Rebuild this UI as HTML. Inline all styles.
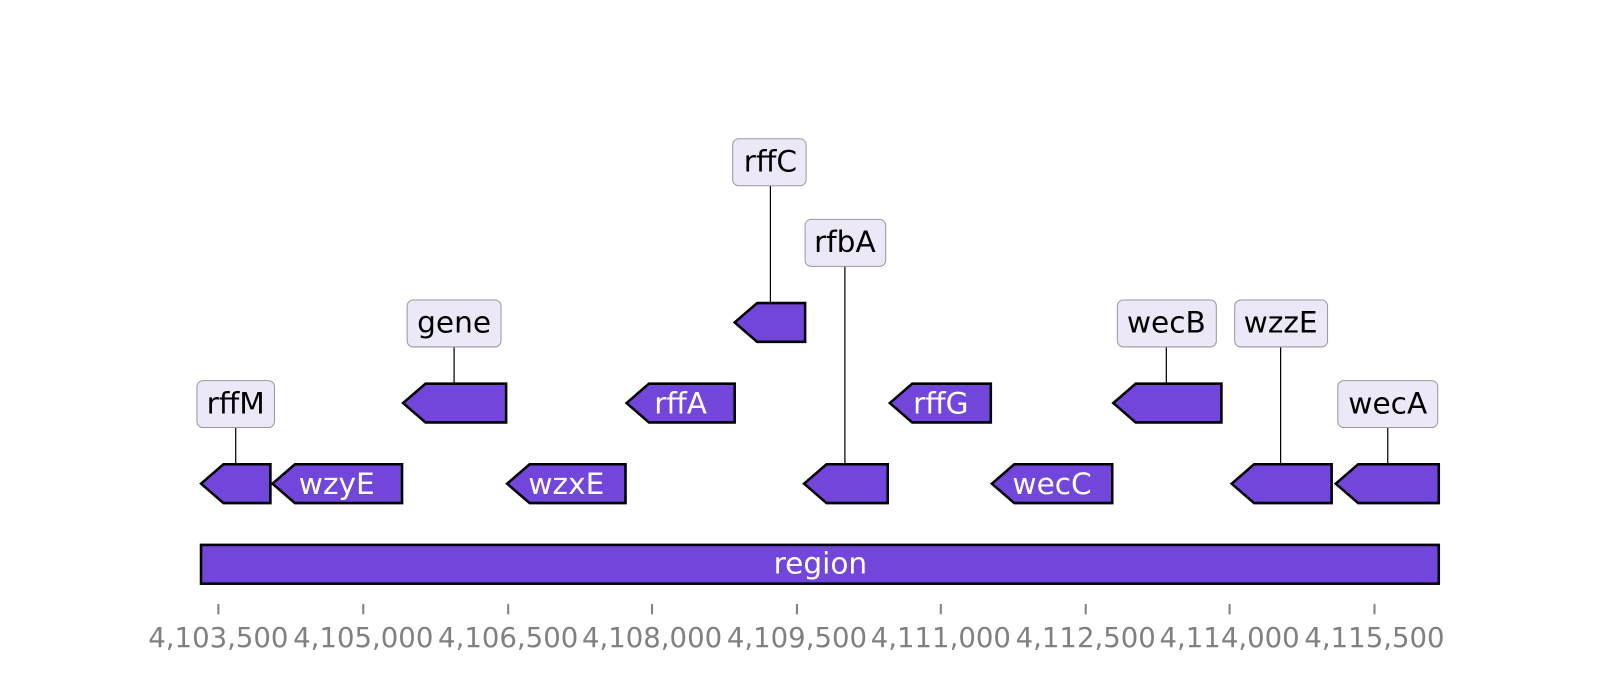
<!DOCTYPE html>
<html><head><meta charset="utf-8"><style>
html,body{margin:0;padding:0;background:#fff;}
svg{display:block;font-family:"DejaVu Sans","Liberation Sans",sans-serif;}
.f{fill:#7346db;stroke:#000;stroke-width:2.5;stroke-linejoin:miter;}
.b{fill:#ece8f8;stroke:#999;stroke-width:1;}
.l{stroke:#000;stroke-width:1.2;}
.t{font-size:29px;fill:#000;text-anchor:middle;}
.w{font-size:29px;fill:#fff;text-anchor:middle;}
.a{font-size:27px;fill:#808080;text-anchor:middle;}
</style></head><body>
<svg width="1600" height="680" viewBox="0 0 1568 666.4">
<line class="l" x1="231" y1="419" x2="231" y2="455"/>
<line class="l" x1="445" y1="340" x2="445" y2="376"/>
<line class="l" x1="755" y1="182" x2="755" y2="297"/>
<line class="l" x1="828" y1="261" x2="828" y2="455"/>
<line class="l" x1="1143" y1="340" x2="1143" y2="376"/>
<line class="l" x1="1255" y1="340" x2="1255" y2="455"/>
<line class="l" x1="1360" y1="419" x2="1360" y2="455"/>
<polygon class="f" points="197,474 219,455 265,455 265,493 219,493"/>
<polygon class="f" points="267,474 289,455 394,455 394,493 289,493"/>
<text class="w" x="330" y="484">wzyE</text>
<polygon class="f" points="497,474 519,455 613,455 613,493 519,493"/>
<text class="w" x="555" y="484">wzxE</text>
<polygon class="f" points="788,474 810,455 870,455 870,493 810,493"/>
<polygon class="f" points="972,474 994,455 1090,455 1090,493 994,493"/>
<text class="w" x="1031" y="484">wecC</text>
<polygon class="f" points="1207,474 1229,455 1305,455 1305,493 1229,493"/>
<polygon class="f" points="1309,474 1331,455 1410,455 1410,493 1331,493"/>
<polygon class="f" points="395,395 417,376 496,376 496,414 417,414"/>
<polygon class="f" points="614,395 636,376 720,376 720,414 636,414"/>
<text class="w" x="667" y="405">rffA</text>
<polygon class="f" points="872,395 894,376 971,376 971,414 894,414"/>
<text class="w" x="922" y="405">rffG</text>
<polygon class="f" points="1091,395 1113,376 1197,376 1197,414 1113,414"/>
<polygon class="f" points="720,316 742,297 789,297 789,335 742,335"/>
<rect class="f" x="197" y="534" width="1213" height="38"/>
<text class="w" x="804" y="562">region</text>
<rect class="b" x="193" y="373" width="76" height="46" rx="6"/><text class="t" x="231" y="405">rffM</text>
<rect class="b" x="399" y="294" width="92" height="46" rx="6"/><text class="t" x="445" y="326">gene</text>
<rect class="b" x="718" y="136" width="72" height="46" rx="6"/><text class="t" x="755" y="168">rffC</text>
<rect class="b" x="789" y="215" width="79" height="46" rx="6"/><text class="t" x="828" y="247">rfbA</text>
<rect class="b" x="1095" y="294" width="97" height="46" rx="6"/><text class="t" x="1143" y="326">wecB</text>
<rect class="b" x="1210" y="294" width="91" height="46" rx="6"/><text class="t" x="1255" y="326">wzzE</text>
<rect class="b" x="1311" y="373" width="98" height="46" rx="6"/><text class="t" x="1360" y="405">wecA</text>
<g stroke="#808080" stroke-width="2">
<line x1="214" y1="592" x2="214" y2="602"/><line x1="356" y1="592" x2="356" y2="602"/>
<line x1="498" y1="592" x2="498" y2="602"/><line x1="639" y1="592" x2="639" y2="602"/>
<line x1="781" y1="592" x2="781" y2="602"/><line x1="922" y1="592" x2="922" y2="602"/>
<line x1="1064" y1="592" x2="1064" y2="602"/><line x1="1205" y1="592" x2="1205" y2="602"/>
<line x1="1347" y1="592" x2="1347" y2="602"/>
</g>
<text class="a" x="214" y="634">4,103,500</text><text class="a" x="356" y="634">4,105,000</text>
<text class="a" x="498" y="634">4,106,500</text><text class="a" x="639" y="634">4,108,000</text>
<text class="a" x="781" y="634">4,109,500</text><text class="a" x="922" y="634">4,111,000</text>
<text class="a" x="1064" y="634">4,112,500</text><text class="a" x="1205" y="634">4,114,000</text>
<text class="a" x="1347" y="634">4,115,500</text>
</svg>
</body></html>
